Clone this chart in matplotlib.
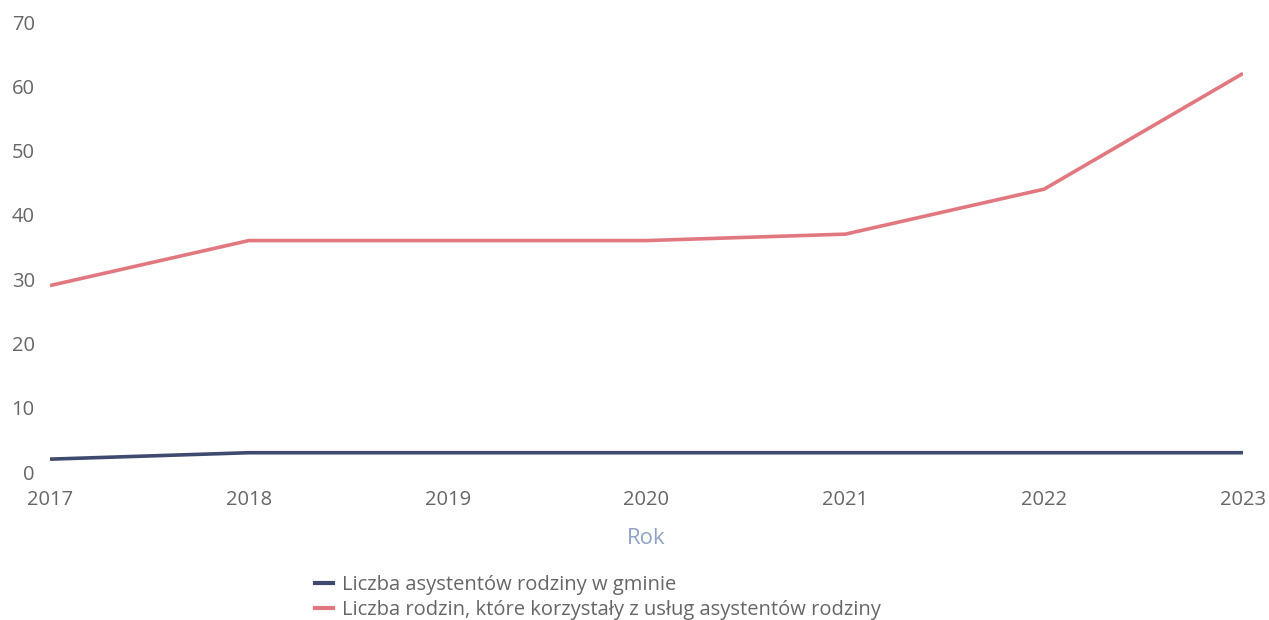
import matplotlib
matplotlib.use("Agg")
import matplotlib.pyplot as plt
from matplotlib.lines import Line2D

years = [2017, 2018, 2019, 2020, 2021, 2022, 2023]
asystenci = [2, 3, 3, 3, 3, 3, 3]
rodziny = [29, 36, 36, 36, 37, 44, 62]
series_names = ["Liczba asystentów rodziny w gminie",
                "Liczba rodzin, które korzystały z usług asystentów rodziny"]
y_ticks = [0, 10, 20, 30, 40, 50, 60, 70]

c_blue = "#3F4B6E"
c_red = "#E2787F"

plt.rcParams['font.family'] = ['Open Sans', 'DejaVu Sans']

fig = plt.figure(figsize=(12.69, 6.2), dpi=100)
ax = fig.add_axes([50/1269, 148/620, (1243-50)/1269, (472-22)/620])

ax.plot(years, asystenci, color=c_blue, lw=2.6, solid_capstyle='butt')
ax.plot(years, rodziny, color=c_red, lw=2.6, solid_capstyle='butt')

ax.set_xlim(2017, 2023)
ax.set_ylim(0, 70)
ax.set_yticks(y_ticks)
ax.set_xticks(years)
ax.set_xticklabels([str(y) for y in years])
for s in ax.spines.values():
    s.set_visible(False)
ax.tick_params(axis='both', length=0, labelsize=14.5, labelcolor="#666666")
ax.tick_params(axis='y', pad=11)
ax.tick_params(axis='x', pad=13)
ax.set_xlabel("Rok", color="#8FA3C7", fontsize=16, labelpad=13)

handles = [Line2D([0], [0], color=c_blue, lw=3),
           Line2D([0], [0], color=c_red, lw=3)]
fig.legend(handles, series_names, loc='upper left',
           bbox_to_anchor=(315/1269, 1 - 575/620), frameon=False,
           borderaxespad=0, borderpad=0,
           fontsize=14.5, handlelength=0.9, handletextpad=0.45,
           labelspacing=0.25, labelcolor="#666666")

fig.savefig("out.png", dpi=100)
